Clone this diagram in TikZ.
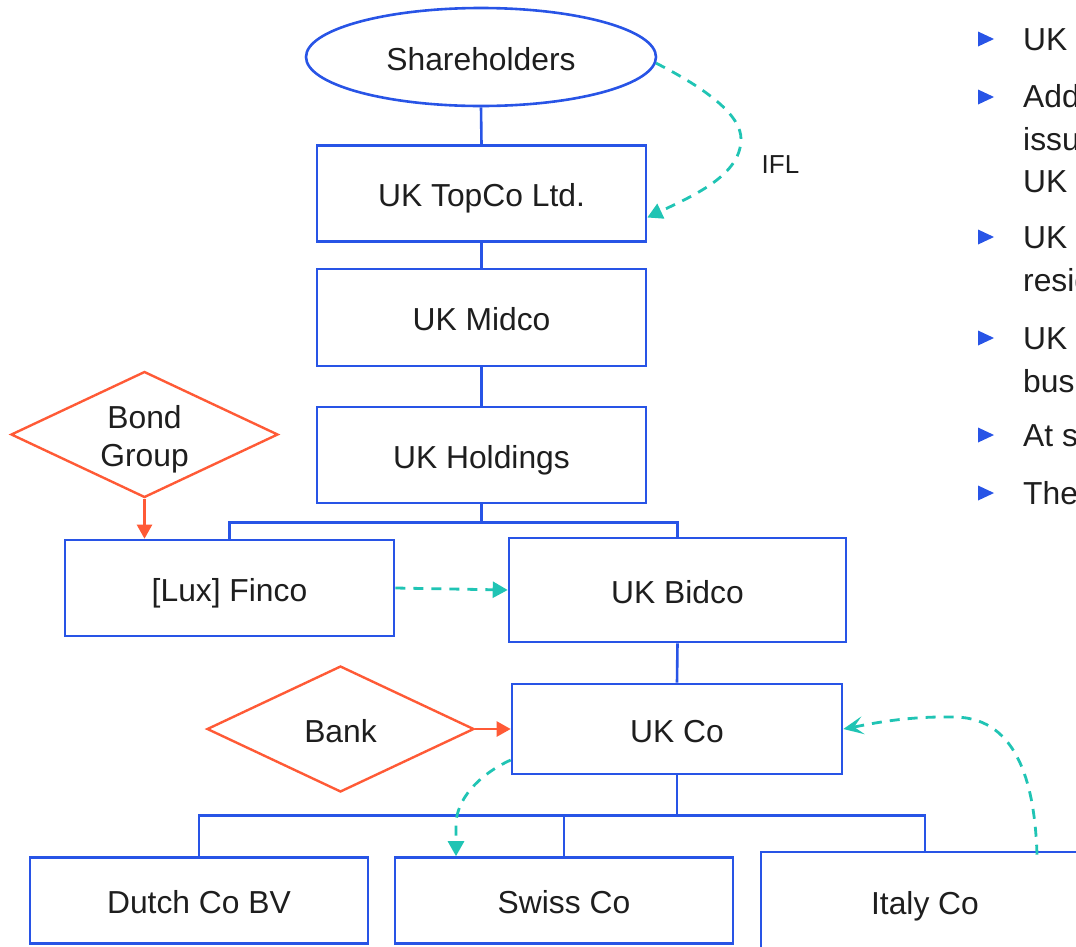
\documentclass[tikz,border=0pt]{standalone}
\usepackage{fontspec}
\setmainfont{Liberation Sans}
\usetikzlibrary{shapes.geometric,arrows.meta}

\definecolor{boxblue}{RGB}{40,84,230}
\definecolor{flowteal}{RGB}{32,196,180}
\definecolor{bondorange}{RGB}{255,90,54}
\definecolor{ink}{RGB}{30,30,30}

\newcommand{\bodyfont}{\fontsize{31.8}{38}\selectfont}

\tikzset{
  entity/.style={draw=boxblue, line width=2.6pt, rectangle, inner sep=0pt,
    minimum width=329pt, minimum height=96pt, text=ink,
    text height=28pt, text depth=2pt, font=\bodyfont},
  holder/.style={draw=boxblue, line width=2.6pt, ellipse, inner sep=0pt,
    minimum width=350pt, minimum height=98pt, text=ink,
    text height=28pt, text depth=2pt, font=\bodyfont},
  lender/.style={draw=bondorange, line width=2.4pt, diamond, inner sep=0pt,
    minimum width=267pt, minimum height=126pt},
  lenderlabel/.style 2 args={label={[align=center, text=ink, yshift=#2,
    font=\bodyfont]center:#1}},
  owns/.style={draw=boxblue, line width=2.6pt},
  funds/.style={draw=bondorange, line width=2.4pt,
    -{Triangle[length=14pt,width=15pt]}},
  loan/.style={draw=flowteal, line width=2.8pt, dash pattern=on 10pt off 8pt,
    -{Triangle[length=15pt,width=16pt]}},
  loanback/.style={draw=flowteal, line width=2.8pt, dash pattern=on 10pt off 8pt,
    -{Stealth[length=20pt,width=18pt,inset=9pt]}},
  bullet/.style={fill=boxblue},
  point/.style={anchor=base west, align=left, text=ink, inner sep=0pt,
    font=\fontsize{31.8}{42.5}\selectfont},
}

\begin{document}
\begin{tikzpicture}[x=1pt,y=-1pt]
\useasboundingbox (0,0) rectangle (1076,946);
\clip (0,0) rectangle (1076,946);

% group entities
\node[holder] (sh) at (481,57) {Shareholders};
\node[entity] (topco) at (481.5,193.5) {UK TopCo Ltd.};
\node[entity, minimum height=97pt] (midco) at (481.5,317.5) {UK Midco};
\node[entity] (hold) at (481.5,455) {UK Holdings};
\node[entity] (finco) at (229.5,588) {[Lux] Finco};
\node[entity, minimum width=337pt, minimum height=104pt] (bidco) at (677.5,590) {UK Bidco};
\node[entity, minimum width=330pt, minimum height=90pt] (ukco) at (677,729) {UK Co};
\node[entity, minimum width=338pt, minimum height=86pt] (dutch) at (199,900.5) {Dutch Co BV};
\node[entity, minimum width=338pt, minimum height=86pt] (swiss) at (564,900.5) {Swiss Co};
\node[entity, minimum width=328pt, minimum height=98pt] (italy) at (925,901) {Italy Co};

% external lenders
\node[lender, lenderlabel={Bond\\Group}{-5pt}] (bond) at (144.5,434.5) {};
\node[lender, lenderlabel={Bank}{-2pt}] (bank) at (340.5,729) {};

% ownership lines
\draw[owns] (sh.south) -- (topco.north);
\draw[owns] (topco.south) -- (midco.north);
\draw[owns] (midco.south) -- (hold.north);
\draw[owns] (hold.south) -- ++(0,18) -| (finco.north);
\draw[owns] (hold.south) -- ++(0,18) -| (bidco.north);
\draw[owns] (bidco.south) -- (ukco.north);
\draw[owns] (ukco.south) -- ++(0,40) -| (dutch.north);
\draw[owns] (ukco.south) -- ++(0,40) -| (swiss.north);
\draw[owns] (ukco.south) -- ++(0,40) -| (italy.north);

% external funding
\draw[funds] (bond.south) -- (bond.south |- finco.north);
\draw[funds] (bank.east) -- (ukco.west);

% intra-group loans
\draw[loan] (sh.-2) .. controls (705,88) and (742,115) .. (741,140)
  .. controls (740,175) and (695,195) .. ([yshift=-24pt]topco.east);
\node[text=ink, font=\fontsize{26}{30}\selectfont] (ifl) at (780.5,165) {IFL};
\draw[loan] (finco.east) -- (bidco.west);
\draw[loan] ([yshift=-31pt]ukco.west) .. controls (478,775) and (456,800) .. (456,825)
  -- ([xshift=-108pt]swiss.north);
\draw[loanback] ([xshift=112pt,yshift=-4pt]italy.north) .. controls (1035,790) and (1020,718) .. (955,717)
  .. controls (905,716) and (870,724) .. (ukco.east);

% key points (baseline of each item's last line)
\foreach \yb in {39,97,237,338,435,493}
  \fill[bullet] (978,\yb-7.5) -- (994,\yb) -- (978,\yb+7.5) -- cycle;
\node[point] (p1) at (1023,50.3) {UK TopCo};
\node[point] (p2) at (1023,192.8) {Additional\\issued\\UK};
\node[point] (p3) at (1023,291) {UK\\resident};
\node[point] (p4) at (1023,392) {UK\\business};
\node[point] (p5) at (1023,446) {At same};
\node[point] (p6) at (1023,504) {The};
\end{tikzpicture}
\end{document}
